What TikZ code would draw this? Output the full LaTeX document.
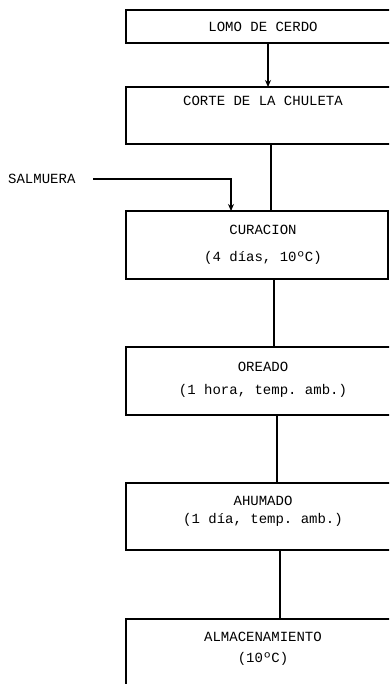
\documentclass[tikz,border=0pt]{standalone}
\usepackage{fontspec}
\setmonofont{Liberation Mono}
\usetikzlibrary{arrows.meta}
\begin{document}
\begin{tikzpicture}[x=1pt,y=-1pt,
  lbl/.style={font=\ttfamily\fontsize{14}{16}\selectfont, inner sep=0pt, anchor=center},
  boxline/.style={draw=black, line width=1.1pt},
  conn/.style={draw=black, line width=1.1pt},
  arr/.style={conn, -{Stealth[length=7pt,width=6pt]}}]
\useasboundingbox (0,0) rectangle (389,684);
\clip (0,0) rectangle (389,684);
% boxes
\draw[boxline] (126,10) rectangle (400,43);
\coordinate (b1bot) at (268,43);
\draw[boxline] (126,87) rectangle (400,144);
\coordinate (b2top) at (268,87);
\coordinate (b2bot) at (271,144);
\draw[boxline] (126,211) rectangle (388,279);
\coordinate (b3top) at (271,211);
\coordinate (b3in) at (231,211);
\coordinate (b3bot) at (274,279);
\draw[boxline] (126,347) rectangle (400,415);
\coordinate (b4top) at (274,347);
\coordinate (b4bot) at (277,415);
\draw[boxline] (126,483) rectangle (400,550);
\coordinate (b5top) at (277,483);
\coordinate (b5bot) at (280,550);
\draw[boxline] (126,690) -- (126,619) -- (400,619);
\coordinate (b6top) at (280,619);
% texts
\node[lbl] (t1) at (263,27) {LOMO DE CERDO};
\node[lbl] (t2) at (263,101) {CORTE DE LA CHULETA};
\node[lbl] (t3a) at (263,230) {CURACION};
\node[lbl] (t3b) at (263,258) {(4 días, 10ºC)};
\node[lbl] (t4a) at (263,367) {OREADO};
\node[lbl] (t4b) at (263,391) {(1 hora, temp. amb.)};
\node[lbl] (t5a) at (263,501) {AHUMADO};
\node[lbl] (t5b) at (263,520) {(1 día, temp. amb.)};
\node[lbl] (t6a) at (263,637) {ALMACENAMIENTO};
\node[lbl] (t6b) at (263,659) {(10ºC)};
\node[lbl, anchor=west] (salm) at (8,179) {SALMUERA};
% connectors
\draw[arr] (b1bot) -- (b2top);
\draw[conn] (b2bot) -- (b3top);
\coordinate (sst) at (93,179);
\draw[arr] (sst) -| (b3in);
\draw[conn] (b3bot) -- (b4top);
\draw[conn] (b4bot) -- (b5top);
\draw[conn] (b5bot) -- (b6top);
\end{tikzpicture}
\end{document}
